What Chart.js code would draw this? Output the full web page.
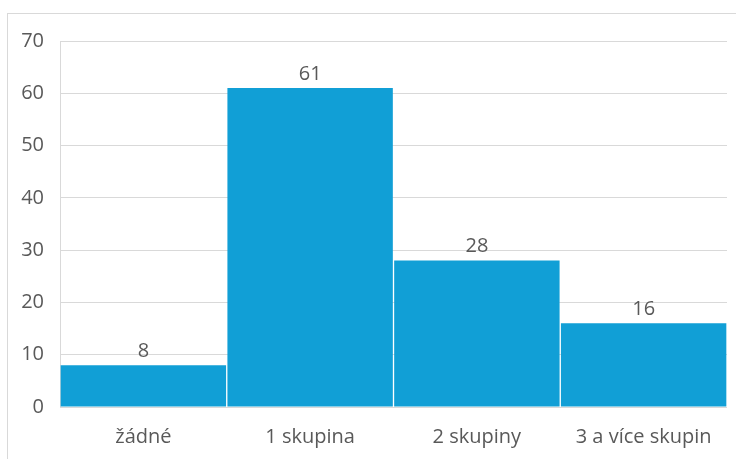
<!DOCTYPE html>
<html>
<head>
<meta charset="utf-8">
<script src="https://cdn.jsdelivr.net/npm/chart.js@4"></script>
<style>
	body { margin: 0; background: #fff; }
	#frame { position: absolute; left: 7px; top: 13px; width: 740px; height: 460px; border: 1px solid #d9d9d9; }
	#wrap { position: absolute; left: 0; top: 0; width: 736px; height: 459px; }
</style>
</head>
<body>
<div id="frame"></div>
<div id="wrap"><canvas id="myChart" width="736" height="459"></canvas></div>
<script>
var categories = ["žádné", "1 skupina", "2 skupiny", "3 a více skupin"];
var counts = [8, 61, 28, 16];
var yTicks = [0, 10, 20, 30, 40, 50, 60, 70];

var textColor = "#595959";
var fontFamily = "'Open Sans', sans-serif";
var fontSize = 20;

// writes each bar's value just above it
var valueLabels = {
	id: "valueLabels",
	afterDatasetsDraw: function (chart) {
		var ctx = chart.ctx;
		var meta = chart.getDatasetMeta(0);
		ctx.save();
		ctx.font = fontSize + "px " + fontFamily;
		ctx.fillStyle = textColor;
		ctx.textAlign = "center";
		ctx.textBaseline = "middle";
		meta.data.forEach(function (bar, i) {
			ctx.fillText(String(chart.data.datasets[0].data[i]), bar.x, bar.y - 14);
		});
		ctx.restore();
	},
};

var ctx = document.getElementById("myChart").getContext("2d");

var chart = new Chart(ctx, {
	type: "bar",
	data: {
		labels: categories,
		datasets: [
			{
				data: counts,
				backgroundColor: "#119fd6",
				categoryPercentage: 1,
				barPercentage: 0.992,
			},
		],
	},
	options: {
		responsive: false,
		animation: false,
		layout: { padding: { top: 41, right: 9, left: 0, bottom: 0 } },
		plugins: {
			legend: { display: false },
			tooltip: { enabled: false },
		},
		scales: {
			x: {
				grid: { display: false, drawTicks: false },
				border: { display: false },
				ticks: { color: textColor, font: { family: fontFamily, size: fontSize }, padding: 18 },
				afterFit: function (scale) {
					scale.height = 52;
				},
			},
			y: {
				min: 0,
				max: 70,
				afterBuildTicks: function (scale) {
					scale.ticks = yTicks.map(function (v) {
						return { value: v };
					});
				},
				grid: { color: "#d9d9d9", drawTicks: false },
				border: { display: true, color: "#d9d9d9" },
				ticks: { color: textColor, font: { family: fontFamily, size: fontSize }, padding: 16 },
				afterFit: function (scale) {
					scale.width = 60;
				},
			},
		},
	},
	plugins: [valueLabels],
});
</script>
</body>
</html>
